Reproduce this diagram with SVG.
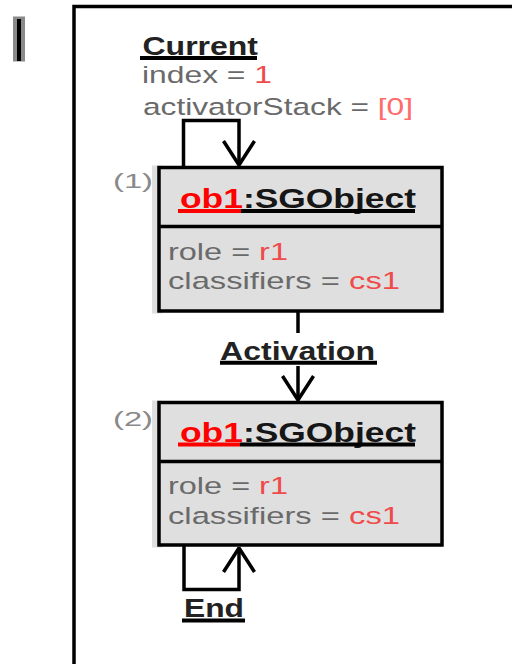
<svg xmlns="http://www.w3.org/2000/svg" width="512" height="664" viewBox="0 0 512 664">
  <defs>
    <style>
      text { font-family: "Liberation Sans", Arial, sans-serif; }
      .lab { font-size: 25px; font-weight: bold; fill: #222; }
      .attr { font-size: 24.5px; fill: #6a6a6a; }
      .head { font-size: 28px; font-weight: bold; fill: #161616; }
      .num { font-size: 20px; fill: #8a8a8a; }
      .val { fill: #f04a4a; }
      .lit { fill: #ff6a6a; }
      .name { fill: #ff0000; }
      .box { fill: #dfdfdf; stroke: #000; stroke-width: 3.5; }
      .band { fill: #dfdfdf; }
      .sep { stroke: #000; stroke-width: 3.5; }
      .ul { stroke: #000; stroke-width: 4; }
      .ulr { stroke: #ff0000; stroke-width: 4; }
      .edge { fill: none; stroke: #000; stroke-width: 3.5; stroke-linejoin: miter; }
    </style>
    <marker id="open" markerUnits="userSpaceOnUse" viewBox="-28 -20 32 40" refX="0" refY="0" markerWidth="32" markerHeight="40" orient="auto">
      <path d="M-24,-15.5 L0,0 L-24,15.5" fill="none" stroke="#000" stroke-width="3.5" stroke-linejoin="bevel"/>
    </marker>
  </defs>

  <rect width="512" height="664" fill="#fff"/>

  <!-- page frame and margin mark -->
  <path d="M74,664 V6.5 H512" fill="none" stroke="#000" stroke-width="3.5"/>
  <rect x="13" y="16.5" width="12" height="45" fill="#8a8a8a"/>
  <rect x="17" y="19" width="4" height="42" fill="#000"/>

  <!-- current state -->
  <g id="current">
    <text class="lab" x="142.5" y="55" textLength="115.5" lengthAdjust="spacingAndGlyphs">Current</text>
    <line class="ul" x1="140" y1="58" x2="257" y2="58"/>
    <text class="attr" x="142" y="83" font-size="25" textLength="130" lengthAdjust="spacingAndGlyphs">index = <tspan class="val">1</tspan></text>
    <text class="attr" x="143" y="115" font-size="25" textLength="270" lengthAdjust="spacingAndGlyphs">activatorStack = <tspan class="lit">[0]</tspan></text>
  </g>

  <!-- connectors -->
  <g id="connectors">
    <path class="edge" d="M183.5,167.5 V120.5 H239 V165" marker-end="url(#open)"/>
    <path class="edge" d="M298,311 V333"/>
    <path class="edge" d="M298,366 V400" marker-end="url(#open)"/>
    <path class="edge" d="M184,545 V589.5 H239 V548" marker-end="url(#open)"/>
  </g>

  <!-- object (1) -->
  <g id="obj1">
    <text class="num" x="113" y="187.5" textLength="40" lengthAdjust="spacingAndGlyphs">(1)</text>
    <rect class="band" x="152" y="165.5" width="10" height="148"/>
    <rect class="box" x="159" y="167.5" width="283" height="143.5"/>
    <line class="sep" x1="159" y1="226.5" x2="442" y2="226.5"/>
    <text class="head" x="180" y="207.5" textLength="236" lengthAdjust="spacingAndGlyphs"><tspan class="name">ob1</tspan>:SGObject</text>
    <line class="ulr" x1="178" y1="211" x2="241" y2="211"/>
    <line class="ul" x1="241" y1="211" x2="415" y2="211"/>
    <text class="attr" x="168" y="259.5" textLength="120" lengthAdjust="spacingAndGlyphs">role = <tspan class="val">r1</tspan></text>
    <text class="attr" x="168" y="288.5" textLength="232" lengthAdjust="spacingAndGlyphs">classifiers = <tspan class="val">cs1</tspan></text>
  </g>

  <!-- activation label -->
  <g id="activation">
    <text class="lab" x="220" y="360" textLength="155" lengthAdjust="spacingAndGlyphs">Activation</text>
    <line class="ul" x1="220" y1="362.8" x2="377" y2="362.8" stroke-width="4.5"/>
  </g>

  <!-- object (2) -->
  <g id="obj2">
    <text class="num" x="113" y="425.5" font-size="21" textLength="40" lengthAdjust="spacingAndGlyphs">(2)</text>
    <rect class="band" x="152" y="400.5" width="10" height="147"/>
    <rect class="box" x="159" y="402.5" width="283" height="142.5"/>
    <line class="sep" x1="159" y1="461.5" x2="442" y2="461.5"/>
    <text class="head" x="180" y="442" textLength="236" lengthAdjust="spacingAndGlyphs"><tspan class="name">ob1</tspan>:SGObject</text>
    <line class="ulr" x1="178" y1="444.5" x2="240" y2="444.5" stroke-width="5"/>
    <line class="ul" x1="240" y1="444.5" x2="415" y2="444.5" stroke-width="5"/>
    <text class="attr" x="168" y="493.5" textLength="120" lengthAdjust="spacingAndGlyphs">role = <tspan class="val">r1</tspan></text>
    <text class="attr" x="168" y="523.5" textLength="232" lengthAdjust="spacingAndGlyphs">classifiers = <tspan class="val">cs1</tspan></text>
  </g>

  <!-- end label -->
  <g id="end">
    <text class="lab" x="184" y="617" textLength="60" lengthAdjust="spacingAndGlyphs">End</text>
    <line class="ul" x1="182" y1="620.5" x2="245" y2="620.5" stroke-width="5"/>
  </g>
</svg>
